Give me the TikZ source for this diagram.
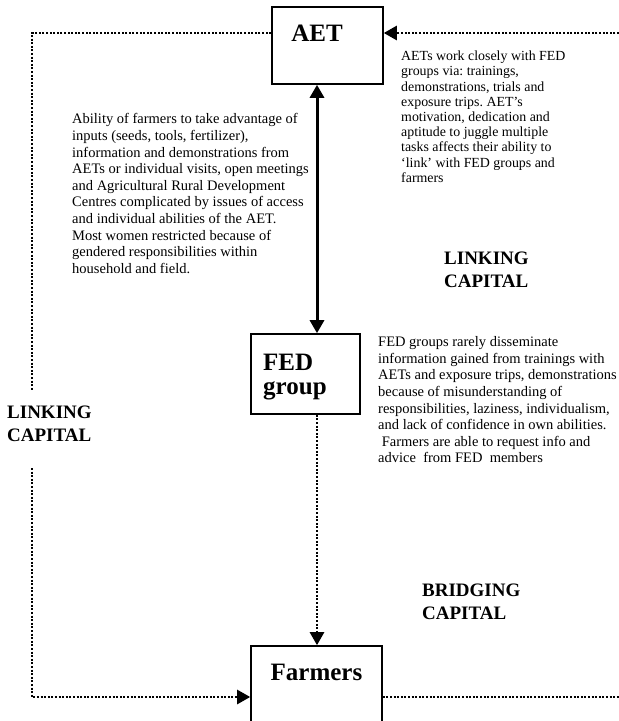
\documentclass[tikz,border=0pt]{standalone}
\usepackage{fontspec}
\setmainfont{Liberation Serif}
\usetikzlibrary{arrows.meta}
\begin{document}
\begin{tikzpicture}[x=1pt,y=-1pt,
  box/.style={draw, line width=1.6pt, rectangle, inner sep=0pt},
  boxlabel/.style={font=\fontsize{25}{24}\selectfont\bfseries, inner sep=0pt, align=left},
  caplabel/.style={font=\fontsize{19}{23}\selectfont\bfseries, inner sep=0pt, align=left, anchor=north west},
  body/.style={font=\fontsize{14.5}{16.6}\selectfont\frenchspacing, inner sep=0pt, align=left, anchor=north west},
  smallbody/.style={font=\fontsize{13.9}{15.2}\selectfont\frenchspacing, inner sep=0pt, align=left, anchor=north west},
  dotline/.style={line width=2.5pt, dash pattern=on 2pt off 1.6pt},
  tip/.style={-{Triangle[length=13pt,width=14pt]}},
  solidarrow/.style={line width=3pt, {Triangle[length=13pt,width=14pt]}-{Triangle[length=13pt,width=14pt]}}
]
\useasboundingbox (0,0) rectangle (619,721);
\clip (0,0) rectangle (619,721);

% boxes
\node[box, minimum width=111pt, minimum height=77pt] (aet) at (327.5,45.5) {};
\node[box, minimum width=109pt, minimum height=80pt] (fed) at (305.5,374) {};
\node[box, minimum width=131pt, minimum height=100pt] (farm) at (316.5,696) {};

% box labels
\node[boxlabel, anchor=base] (aetl) at (317,41.5) {AET};
\node[boxlabel, anchor=north west] (fedl) at (263,353.5) {FED\\group};
\node[boxlabel, anchor=base] (farml) at (316.5,680) {Farmers};

% capital labels
\node[caplabel] (link1) at (444,251.7) {LINKING\\CAPITAL};
\node[caplabel] (link2) at (7,405.7) {LINKING\\CAPITAL};
\node[caplabel] (bridge) at (422,583.7) {BRIDGING\\CAPITAL};

% body texts
\node[body] (t1) at (72,113.4) {Ability of farmers to take advantage of\\
inputs (seeds, tools, fertilizer),\\
information and demonstrations from\\
AETs or individual visits, open meetings\\
and Agricultural Rural Development\\
Centres complicated by issues of access\\
and individual abilities of the AET.\\
Most women restricted because of\\
gendered responsibilities within\\
household and field.};

\node[smallbody] (t2) at (401,50.8) {AETs work closely with FED\\
groups via: trainings,\\
demonstrations, trials and\\
exposure trips. AET’s\\
motivation, dedication and\\
aptitude to juggle multiple\\
tasks affects their ability to\\
‘link’ with FED groups and\\
farmers};

\node[body] (t3) at (378,336.4) {FED groups rarely disseminate\\
information gained from trainings with\\
AETs and exposure trips, demonstrations\\
because of misunderstanding of\\
responsibilities, laziness, individualism,\\
and lack of confidence in own abilities.\\
\ Farmers are able to request info and\\
advice\ \ from FED\ \ members};

% connectors
\coordinate (ax) at (317,0);
\draw[solidarrow] (ax |- aet.south) -- (ax |- fed.north);
\draw[dotline, tip] (ax |- fed.south) -- (ax |- farm.north);
\coordinate (tr) at (619,33);
\draw[dotline, tip] (tr) -- (tr -| aet.east);
\coordinate (tl) at (32,33);
\coordinate (lgapa) at (32,390);
\coordinate (lgapb) at (32,468);
\coordinate (bl) at (32,697);
\coordinate (br) at (619,697);
\draw[dotline] (tl -| aet.west) -- (tl) -- (lgapa);
\draw[dotline, tip] (lgapb) -- (bl) -- (bl -| farm.west);
\draw[dotline] (br -| farm.east) -- (br);
\end{tikzpicture}
\end{document}
